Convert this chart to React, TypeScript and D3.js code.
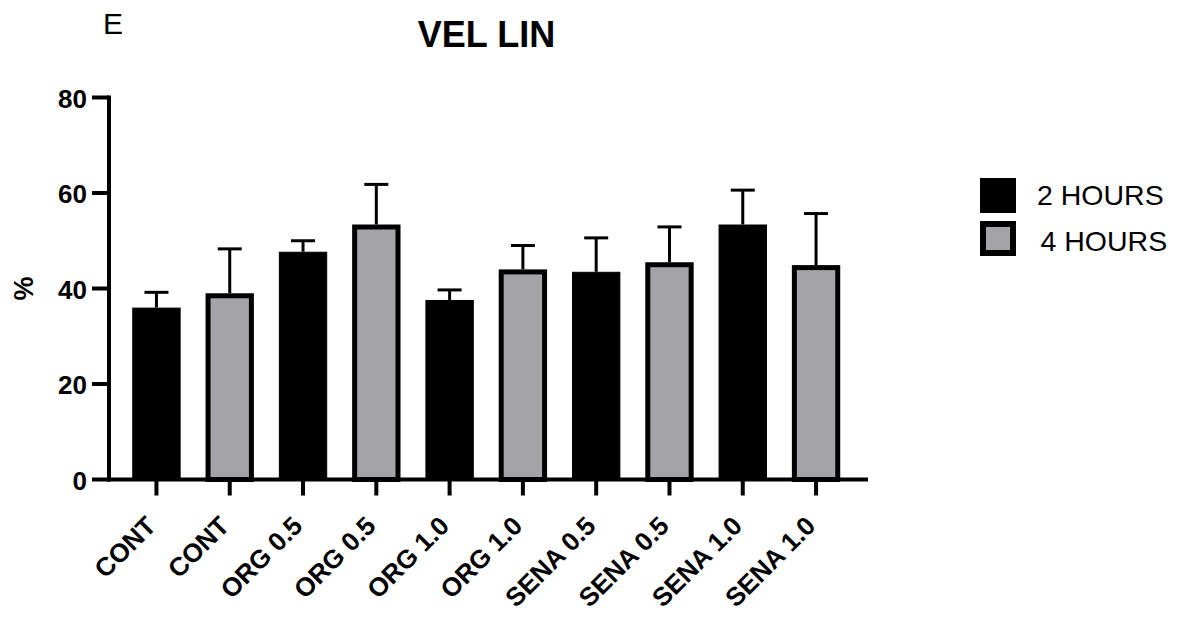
import React from "react";
import * as d3 from "d3";

const categories = ["CONT", "CONT", "ORG 0.5", "ORG 0.5", "ORG 1.0", "ORG 1.0", "SENA 0.5", "SENA 0.5", "SENA 1.0", "SENA 1.0"];
const groups = ["2 HOURS", "4 HOURS", "2 HOURS", "4 HOURS", "2 HOURS", "4 HOURS", "2 HOURS", "4 HOURS", "2 HOURS", "4 HOURS"];
const means = [36.0, 39.0, 47.7, 53.4, 37.6, 44.0, 43.5, 45.5, 53.4, 44.9];
const upperErrors = [39.2, 48.3, 50.0, 61.8, 39.7, 49.0, 50.6, 52.9, 60.6, 55.7];
const yTicks = [0, 20, 40, 60, 80];
const legendItems = ["2 HOURS", "4 HOURS"];

const FONT = "'Liberation Sans', Arial, Helvetica, sans-serif";
const GRAY = "#a4a3a8";

export default function App() {
  const W = 1183, H = 619;
  const y = d3.scaleLinear().domain([0, 80]).range([479.5, 97.5]);
  const x = d3.scaleBand<number>().domain(d3.range(categories.length)).range([119.8, 852.7]).paddingInner(0.34).paddingOuter(0.17);
  const bw = x.bandwidth();
  const color = (g: string) => (g === "2 HOURS" ? "#000" : GRAY);
  const axisX = 109;
  const base = y(0);

  return (
    <div style={{ position: "absolute", left: 0, top: 0 }}>
      <svg width={W} height={H} style={{ display: "block", background: "#fff" }} fontFamily={FONT}>
        <text x={103} y={34} fontSize={30} fill="#000">E</text>
        <text x={486.5} y={46.7} fontSize={36} fontWeight="bold" textAnchor="middle" fill="#000">VEL LIN</text>
        <text transform={`translate(33,${y(40)}) rotate(-90)`} fontSize={27} fontWeight="bold" textAnchor="middle" fill="#000">%</text>

        {/* bars */}
        {means.map((m, i) => {
          const cx = (x(i) as number) + bw / 2;
          const isGray = groups[i] !== "2 HOURS";
          const sw = isGray ? 5 : 1;
          return (
            <g key={i}>
              <line x1={cx} x2={cx} y1={y(m)} y2={y(upperErrors[i])} stroke="#000" strokeWidth={3} />
              <line x1={cx - 12} x2={cx + 12} y1={y(upperErrors[i])} y2={y(upperErrors[i])} stroke="#000" strokeWidth={3} />
              <rect
                x={(x(i) as number) + sw / 2}
                y={y(m) + sw / 2}
                width={bw - sw}
                height={base - y(m) - sw / 2}
                fill={color(groups[i])}
                stroke="#000"
                strokeWidth={sw}
              />
            </g>
          );
        })}

        {/* y axis */}
        <line x1={axisX} x2={axisX} y1={y(80) - 2} y2={base + 2} stroke="#000" strokeWidth={4} />
        {yTicks.map((t) => (
          <g key={t}>
            <line x1={92} x2={axisX} y1={y(t)} y2={y(t)} stroke="#000" strokeWidth={4} />
            <text x={87} y={y(t) + 10} fontSize={26} fontWeight="bold" textAnchor="end" fill="#000">{t}</text>
          </g>
        ))}

        {/* x axis */}
        <line x1={axisX - 2} x2={868} y1={base} y2={base} stroke="#000" strokeWidth={4} />
        {categories.map((c, i) => {
          const cx = (x(i) as number) + bw / 2;
          return (
            <g key={i}>
              <line x1={cx} x2={cx} y1={base} y2={base + 16} stroke="#000" strokeWidth={4} />
              <text transform={`translate(${cx + 1},${base + 48}) rotate(-45)`} fontSize={26} fontWeight="bold" textAnchor="end" fill="#000">{c}</text>
            </g>
          );
        })}

        {/* legend */}
        {legendItems.map((g, i) => {
          const ly = 178 + i * 43;
          const isGray = g !== "2 HOURS";
          return (
            <g key={g}>
              {isGray ? (
                <rect x={983} y={ly + 3} width={30} height={29} fill={GRAY} stroke="#000" strokeWidth={6} />
              ) : (
                <rect x={980} y={ly} width={36} height={35} fill="#000" />
              )}
              <text x={1037 + i * 3.5} y={205 + i * 46} fontSize={28.5} fill="#000">{g}</text>
            </g>
          );
        })}
      </svg>
    </div>
  );
}
